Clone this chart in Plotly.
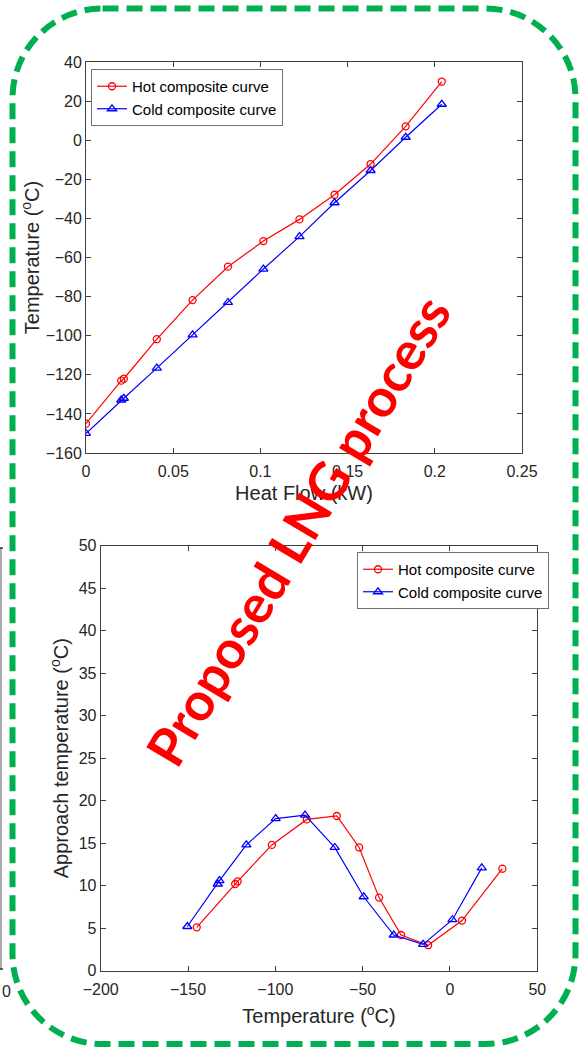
import plotly.graph_objects as go

W, H = 583, 1048

# ---------------- data ----------------
heat_flow_hot = [0, 0.0202, 0.0217, 0.0406, 0.0611, 0.0814, 0.1017, 0.1224, 0.1425, 0.1632, 0.1833, 0.2040]
temp_hot = [-145, -123, -122, -101.8, -81.8, -64.7, -51.6, -40.5, -27.9, -12.2, 7.1, 30]
heat_flow_cold = [0, 0.0202, 0.0217, 0.0406, 0.0611, 0.0814, 0.1017, 0.1224, 0.1425, 0.1632, 0.1833, 0.2040]
temp_cold = [-150, -132.9, -132, -116.6, -99.6, -83, -65.9, -49.3, -32, -15.5, 1.5, 18.4]

approach_T_hot = [-145, -123, -121.6, -102, -82, -64.8, -52, -40.6, -28, -12.5, 6.9, 30]
approach_hot = [5.1, 10.2, 10.5, 14.8, 17.8, 18.2, 14.5, 8.6, 4.2, 3.0, 5.9, 12.0]
approach_T_cold = [-150.4, -133, -132, -116.6, -99.8, -83, -66, -49.4, -32.2, -15.4, 1.4, 18.2]
approach_cold = [5.2, 10.2, 10.6, 14.8, 17.9, 18.3, 14.5, 8.7, 4.2, 3.1, 6.0, 12.1]

top_xticks = [0, 0.05, 0.1, 0.15, 0.2, 0.25]
top_xticklabels = ["0", "0.05", "0.1", "0.15", "0.2", "0.25"]
top_yticks = [-160, -140, -120, -100, -80, -60, -40, -20, 0, 20, 40]
bot_xticks = [-200, -150, -100, -50, 0, 50]
bot_yticks = [0, 5, 10, 15, 20, 25, 30, 35, 40, 45, 50]

legend_names = ["Hot composite curve", "Cold composite curve"]
watermark = "Proposed LNG process"

# ---------------- helpers ----------------
def px(x):
    return x / W

def py(y):
    return 1 - y / H

HOT = "#FF0000"
COLD = "#0000FF"
TXT = "#262626"
AX = "#404040"
FONT = "Liberation Sans, Arial, sans-serif"

fig = go.Figure()

fig.add_trace(go.Scatter(x=heat_flow_hot, y=temp_hot, name=legend_names[0], mode="lines+markers",
                         line=dict(color=HOT, width=1.2),
                         marker=dict(symbol="circle-open", size=7, color=HOT, line=dict(width=1.3)),
                         xaxis="x", yaxis="y", legend="legend"))
fig.add_trace(go.Scatter(x=heat_flow_cold, y=temp_cold, name=legend_names[1], mode="lines+markers",
                         line=dict(color=COLD, width=1.2),
                         marker=dict(symbol="triangle-up-open", size=8, color=COLD, line=dict(width=1.3)),
                         xaxis="x", yaxis="y", legend="legend"))
fig.add_trace(go.Scatter(x=approach_T_hot, y=approach_hot, name=legend_names[0], mode="lines+markers",
                         line=dict(color=HOT, width=1.2),
                         marker=dict(symbol="circle-open", size=7, color=HOT, line=dict(width=1.3)),
                         xaxis="x2", yaxis="y2", legend="legend2"))
fig.add_trace(go.Scatter(x=approach_T_cold, y=approach_cold, name=legend_names[1], mode="lines+markers",
                         line=dict(color=COLD, width=1.2),
                         marker=dict(symbol="triangle-up-open", size=8, color=COLD, line=dict(width=1.3)),
                         xaxis="x2", yaxis="y2", legend="legend2"))

tickfont = dict(family=FONT, size=16, color=TXT)
titlefont = dict(family=FONT, size=20, color=TXT)

common = dict(showgrid=False, zeroline=False, showline=True, linecolor=AX, linewidth=1,
              mirror="ticks", ticks="inside", ticklen=5, tickcolor=AX, tickwidth=1,
              tickfont=tickfont, automargin=False)

fig.update_layout(
    width=W, height=H,
    margin=dict(l=0, r=0, t=0, b=0),
    paper_bgcolor="white", plot_bgcolor="white",
    font=dict(family=FONT, color=TXT),
    xaxis=dict(domain=[px(86), px(522)], range=[0, 0.25], tickvals=top_xticks, ticktext=top_xticklabels,
               anchor="y", ticklabelstandoff=4,
               title=dict(text="Heat Flow (kW)", font=titlefont, standoff=6), **common),
    yaxis=dict(domain=[py(453), py(62)], range=[-160, 40], tickvals=top_yticks,
               anchor="x", title=dict(text="Temperature (<sup>o</sup>C)", font=titlefont, standoff=0), **common),
    xaxis2=dict(domain=[px(100.7), px(537.3)], range=[-200, 50], tickvals=bot_xticks,
                anchor="y2", ticklabelstandoff=4,
                title=dict(text="Temperature (<sup>o</sup>C)", font=titlefont, standoff=12), **common),
    yaxis2=dict(domain=[py(970.7), py(545.7)], range=[0, 50], tickvals=bot_yticks,
                anchor="x2", title=dict(text="Approach temperature (<sup>o</sup>C)", font=titlefont, standoff=4), **common),
    legend=dict(x=px(91), y=py(69), xanchor="left", yanchor="top",
                bgcolor="white", bordercolor="#707070", borderwidth=1,
                font=dict(family=FONT, size=15, color="#000000"),
                itemwidth=30, tracegroupgap=0),
    legend2=dict(x=px(357), y=py(552), xanchor="left", yanchor="top",
                 bgcolor="white", bordercolor="#707070", borderwidth=1,
                 font=dict(family=FONT, size=15, color="#000000"),
                 itemwidth=30, tracegroupgap=0),
    showlegend=True,
)

# ---- green dashed rounded border ----
x0, y0, x1, y1, r = 12.5, 8.5, 575.5, 1044, 90
k = 0.5523 * r
pts = [
    ("M", [(x0 + r, y0)]),
    ("L", [(x1 - r, y0)]),
    ("C", [(x1 - r + k, y0), (x1, y0 + r - k), (x1, y0 + r)]),
    ("L", [(x1, y1 - r)]),
    ("C", [(x1, y1 - r + k), (x1 - r + k, y1), (x1 - r, y1)]),
    ("L", [(x0 + r, y1)]),
    ("C", [(x0 + r - k, y1), (x0, y1 - r + k), (x0, y1 - r)]),
    ("L", [(x0, y0 + r)]),
    ("C", [(x0, y0 + r - k), (x0 + r - k, y0), (x0 + r, y0)]),
]
path = ""
for cmd, ps in pts:
    path += cmd + " " + " ".join(f"{px(a):.5f},{py(b):.5f}" for a, b in ps) + " "
path += "Z"
fig.add_shape(type="path", path=path, xref="paper", yref="paper",
              line=dict(color="#00B050", width=6, dash="16px,8px"), layer="above")

# ---- cropped neighbouring-figure remnants on the left edge ----
fig.add_shape(type="line", xref="paper", yref="paper", x0=px(1), x1=px(1), y0=py(548), y1=py(970),
              line=dict(color="#909090", width=1.5))
fig.add_shape(type="line", xref="paper", yref="paper", x0=px(0), x1=px(3), y0=py(548), y1=py(548),
              line=dict(color="#303030", width=1.5))
fig.add_shape(type="line", xref="paper", yref="paper", x0=px(0), x1=px(3), y0=py(969), y1=py(969),
              line=dict(color="#303030", width=1.5))
fig.add_annotation(text="0", xref="paper", yref="paper", x=0, y=py(991), xanchor="left", yanchor="middle",
                   showarrow=False, font=dict(family=FONT, size=16, color=TXT))

# ---- watermark ----
fig.add_annotation(text=f"<b>{watermark}</b>", xref="paper", yref="paper", x=px(297), y=py(530),
                   xanchor="center", yanchor="middle", showarrow=False, textangle=-59,
                   font=dict(family="Lato, Liberation Sans, sans-serif", size=53, color="#FF0000"))

fig.write_html("out.html")
